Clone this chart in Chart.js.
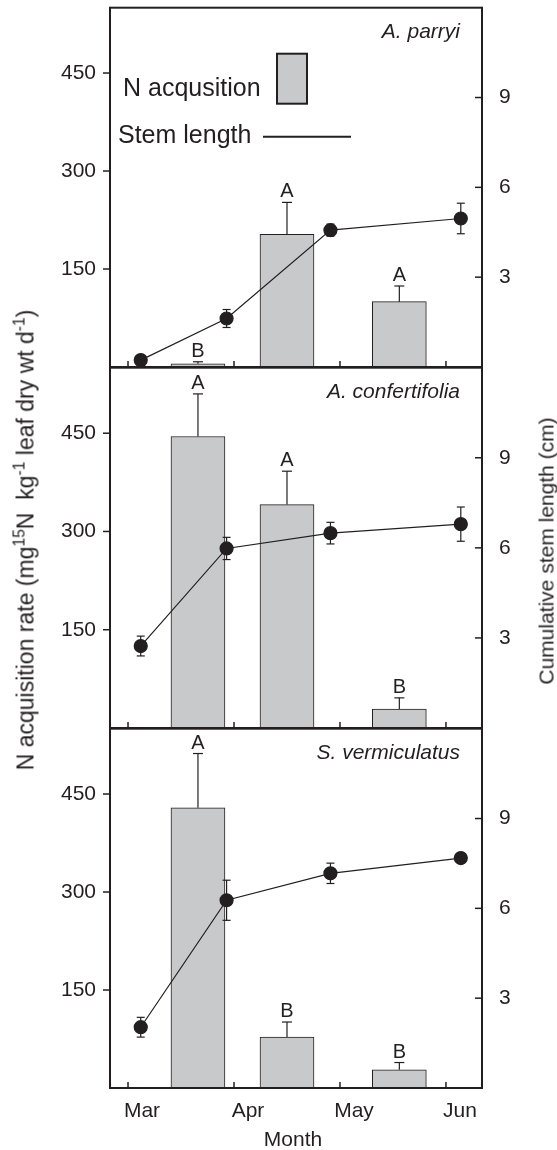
<!DOCTYPE html>
<html>
<head>
<meta charset="utf-8">
<script src="https://cdn.jsdelivr.net/npm/chart.js@4.4.1/dist/chart.umd.min.js"></script>
<style>
  html, body { margin: 0; padding: 0; background: #fff; }
  #figure { position: relative; width: 557px; height: 1150px; font-family: 'Liberation Sans', Arial, sans-serif; color: #231f20; }
  #figure canvas { position: absolute; left: 0; }
  .axis-title { position: absolute; white-space: nowrap; font-size: 21px; line-height: 1; transform-origin: center; }
  .axis-title sup { font-size: 0.68em; vertical-align: 0.55em; line-height: 0; }
</style>
</head>
<body>
<div id="figure">
  <canvas id="panel1" width="557" height="380" style="top:0px"></canvas>
  <canvas id="panel2" width="557" height="380" style="top:360px"></canvas>
  <canvas id="panel3" width="557" height="429" style="top:721px"></canvas>
  <div class="axis-title" style="left:26px; top:540px; font-size:23px; transform:translate(-50%,-50%) rotate(-90deg)">N acquisition rate (mg<sup>15</sup>N&nbsp; kg<sup>-1</sup> leaf dry wt d<sup>-1</sup>)</div>
  <div class="axis-title" style="left:546px; top:551px; transform:translate(-50%,-50%) rotate(-90deg)">Cumulative stem length (cm)</div>
  <div class="axis-title" style="left:293px; top:1138px; transform:translate(-50%,-50%)">Month</div>
</div>
<script>
// x positions are in months after 1 March (Mar = 0, Apr = 1, ...)
const monthLabels = ['Mar', 'Apr', 'May', 'Jun'];
const barMonths = [0.66, 1.5, 2.56];
const stemMonths = [0.12, 0.93, 1.91, 3.14];
const nTicks = [150, 300, 450];
const stemTicks = [3, 6, 9];

// A. parryi
const parryiN = [5, 203, 100];
const parryiNErr = [3, 49, 24];
const parryiLetters = ['B', 'A', 'A'];
const parryiStem = [0.23, 1.62, 4.57, 4.96];
const parryiStemErr = [0, 0.3, 0.2, 0.51];

// A. confertifolia
const confertifoliaN = [445, 341, 29];
const confertifoliaNErr = [65, 51, 17];
const confertifoliaLetters = ['A', 'A', 'B'];
const confertifoliaStem = [2.73, 5.98, 6.49, 6.79];
const confertifoliaStemErr = [0.33, 0.37, 0.36, 0.57];

// S. vermiculatus
const vermiculatusN = [429, 78, 28];
const vermiculatusNErr = [83, 23, 11];
const vermiculatusLetters = ['A', 'B', 'B'];
const vermiculatusStem = [2.03, 6.27, 7.17, 7.68];
const vermiculatusStemErr = [0.33, 0.67, 0.34, 0];

const ink = '#231f20';
const barGrey = '#c8c9cb';
const fontFamily = "'Liberation Sans', Arial, sans-serif";

Chart.defaults.font.family = fontFamily;
Chart.defaults.color = ink;

function seg(ctx, x1, y1, x2, y2) {
    ctx.beginPath();
    ctx.moveTo(x1, y1);
    ctx.lineTo(x2, y2);
    ctx.stroke();
}

function decorPlugin(p) {
    return {
        id: 'decor',
        afterDatasetsDraw: function (chart) {
            const ctx = chart.ctx;
            const a = chart.chartArea;
            const xs = chart.scales.x, yl = chart.scales.y, yr = chart.scales.y2;
            ctx.save();
            ctx.strokeStyle = ink;
            ctx.fillStyle = ink;

            // error bars on N acquisition (upper side) and the letters
            ctx.lineWidth = 1.2;
            ctx.font = '20px ' + fontFamily;
            ctx.textAlign = 'center';
            ctx.textBaseline = 'alphabetic';
            chart.getDatasetMeta(1).data.forEach(function (bar, i) {
                const top = yl.getPixelForValue(p.n[i] + p.nErr[i]);
                seg(ctx, bar.x, bar.y, bar.x, top);
                seg(ctx, bar.x - 5, top, bar.x + 5, top);
                ctx.fillText(p.letters[i], bar.x, top - 5);
            });

            // error bars on stem length
            chart.getDatasetMeta(0).data.forEach(function (pt, i) {
                if (!p.stemErr[i]) return;
                const hi = yr.getPixelForValue(p.stem[i] + p.stemErr[i]);
                const lo = yr.getPixelForValue(p.stem[i] - p.stemErr[i]);
                seg(ctx, pt.x, lo, pt.x, hi);
                seg(ctx, pt.x - 4, hi, pt.x + 4, hi);
                seg(ctx, pt.x - 4, lo, pt.x + 4, lo);
            });

            // frame
            ctx.lineWidth = 2;
            ctx.strokeRect(a.left, a.top, a.right - a.left, a.bottom - a.top);

            // tick marks: left outward, right and bottom inward
            ctx.lineWidth = 1.5;
            yl.ticks.forEach(function (t) {
                const y = yl.getPixelForValue(t.value);
                seg(ctx, a.left - 7, y, a.left, y);
            });
            yr.ticks.forEach(function (t) {
                const y = yr.getPixelForValue(t.value);
                seg(ctx, a.right - 7, y, a.right, y);
            });
            xs.ticks.forEach(function (t) {
                const x = xs.getPixelForValue(t.value);
                seg(ctx, x, a.bottom, x, a.bottom - 6);
            });

            // species name
            ctx.font = 'italic 21px ' + fontFamily;
            ctx.textAlign = 'right';
            ctx.fillText(p.species, a.right - 22, a.top + 30);

            // legend, first panel only
            if (p.legend) {
                ctx.font = '25px ' + fontFamily;
                ctx.textAlign = 'left';
                ctx.textBaseline = 'middle';
                ctx.fillText('N acqusition', a.left + 13, a.top + 81);
                ctx.fillStyle = barGrey;
                ctx.fillRect(a.left + 167, a.top + 46, 30, 50);
                ctx.lineWidth = 2;
                ctx.strokeRect(a.left + 167, a.top + 46, 30, 50);
                ctx.fillStyle = ink;
                ctx.fillText('Stem length', a.left + 8, a.top + 128);
                seg(ctx, a.left + 153, a.top + 129, a.left + 241, a.top + 129);
            }
            ctx.restore();
        }
    };
}

function makePanel(canvasId, p) {
    new Chart(document.getElementById(canvasId), {
        type: 'bar',
        data: {
            datasets: [{
                type: 'line',
                label: 'Stem length',
                data: stemMonths.map(function (m, i) { return { x: m, y: p.stem[i] }; }),
                yAxisID: 'y2',
                borderColor: ink,
                borderWidth: 1.2,
                pointRadius: 6.5,
                pointBackgroundColor: ink,
                pointBorderColor: ink,
                tension: 0,
                order: 0
            }, {
                type: 'bar',
                label: 'N acquisition',
                data: barMonths.map(function (m, i) { return { x: m, y: p.n[i] }; }),
                yAxisID: 'y',
                backgroundColor: barGrey,
                borderColor: ink,
                borderWidth: 1,
                borderSkipped: false,
                barThickness: 54,
                order: 1
            }]
        },
        options: {
            responsive: false,
            animation: false,
            devicePixelRatio: 1,
            layout: { padding: { top: 7, left: 0, right: 0, bottom: 0 } },
            plugins: { legend: { display: false }, tooltip: { enabled: false } },
            scales: {
                x: {
                    type: 'linear',
                    min: -0.17,
                    max: 3.34,
                    offset: false,
                    afterBuildTicks: function (s) {
                        s.ticks = monthLabels.map(function (l, i) { return { value: i }; });
                    },
                    afterFit: function (s) {
                        s.height = p.xHeight;
                        s.paddingLeft = 0;
                        s.paddingRight = 0;
                    },
                    grid: { display: false, drawTicks: false },
                    border: { display: false },
                    ticks: {
                        display: p.showMonths,
                        callback: function (v) { return monthLabels[v]; },
                        labelOffset: 14,
                        padding: 11,
                        maxRotation: 0,
                        autoSkip: false,
                        font: { size: 21 }
                    }
                },
                y: {
                    position: 'left',
                    min: 0,
                    max: 550,
                    afterBuildTicks: function (s) {
                        s.ticks = nTicks.map(function (v) { return { value: v }; });
                    },
                    afterFit: function (s) {
                        s.width = 110;
                        s.paddingTop = 0;
                        s.paddingBottom = 0;
                    },
                    grid: { display: false, drawTicks: false },
                    border: { display: false },
                    ticks: { padding: 14, font: { size: 21 } }
                },
                y2: {
                    position: 'right',
                    min: 0,
                    max: 12,
                    afterBuildTicks: function (s) {
                        s.ticks = stemTicks.map(function (v) { return { value: v }; });
                    },
                    afterFit: function (s) {
                        s.width = 75;
                        s.paddingTop = 0;
                        s.paddingBottom = 0;
                    },
                    grid: { display: false, drawTicks: false },
                    border: { display: false },
                    ticks: { padding: 17, font: { size: 21 } }
                }
            }
        },
        plugins: [decorPlugin(p)]
    });
}

makePanel('panel1', {
    species: 'A. parryi', n: parryiN, nErr: parryiNErr, letters: parryiLetters,
    stem: parryiStem, stemErr: parryiStemErr, legend: true, showMonths: false, xHeight: 13
});
makePanel('panel2', {
    species: 'A. confertifolia', n: confertifoliaN, nErr: confertifoliaNErr, letters: confertifoliaLetters,
    stem: confertifoliaStem, stemErr: confertifoliaStemErr, legend: false, showMonths: false, xHeight: 12
});
makePanel('panel3', {
    species: 'S. vermiculatus', n: vermiculatusN, nErr: vermiculatusNErr, letters: vermiculatusLetters,
    stem: vermiculatusStem, stemErr: vermiculatusStemErr, legend: false, showMonths: true, xHeight: 62
});
</script>
</body>
</html>
